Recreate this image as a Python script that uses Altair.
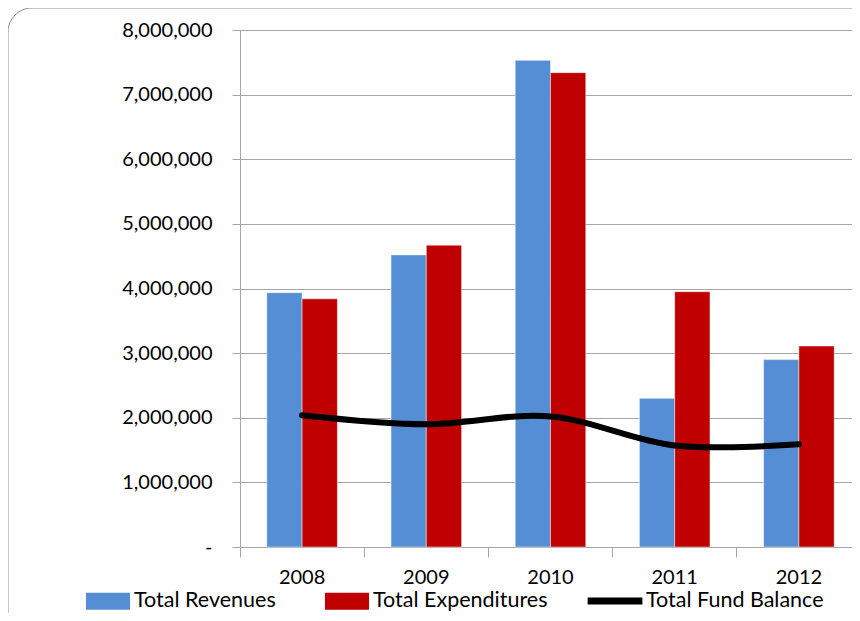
import altair as alt
import pandas as pd

years = ["2008", "2009", "2010", "2011", "2012"]
revenues = [3935000, 4520000, 7530000, 2300000, 2900000]
expenditures = [3840000, 4670000, 7340000, 3950000, 3110000]
fund_balance = [2040000, 1900000, 2020000, 1570000, 1590000]
bar_series = ["Total Revenues", "Total Expenditures"]
bar_colors = ["#558ED5", "#C00000"]
line_series = "Total Fund Balance"
y_ticks = [0, 1000000, 2000000, 3000000, 4000000, 5000000, 6000000, 7000000, 8000000]

FONT = "Lato"

bars_df = pd.DataFrame(
    [{"Year": y, "Series": bar_series[0], "Value": v} for y, v in zip(years, revenues)]
    + [{"Year": y, "Series": bar_series[1], "Value": v} for y, v in zip(years, expenditures)]
)
line_df = pd.DataFrame({"Year": years, "Value": fund_balance, "Series": line_series})
frame_df = pd.DataFrame({"k": [0]})

x_scale = alt.Scale(domain=years, range=[0, 621], paddingInner=0, paddingOuter=0)
y_scale = alt.Scale(domain=[0, 8000000], nice=False)

x_axis = alt.Axis(
    title=None, bandPosition=0, tickSize=10, labelPadding=10,
    labelFontSize=20, labelFont=FONT, labelColor="#000000", labelAngle=0,
    domainColor="#a6a6a6", tickColor="#a6a6a6", grid=False,
)
y_axis = alt.Axis(
    title=None, values=y_ticks, tickSize=8, labelPadding=20,
    labelExpr="datum.value == 0 ? '-' : format(datum.value, ',')",
    labelFontSize=20, labelFont=FONT, labelColor="#000000",
    domainColor="#a6a6a6", tickColor="#a6a6a6", gridColor="#a6a6a6", grid=True,
)

frame = alt.Chart(frame_df).mark_rect(
    fillOpacity=0, stroke="#8c8c8c", strokeWidth=1, cornerRadius=24
).encode(
    x=alt.value(-232), x2=alt.value(700), y=alt.value(-22), y2=alt.value(700)
)

bars = alt.Chart(bars_df).mark_bar(stroke="#ffffff", strokeOpacity=0.45, strokeWidth=1).encode(
    x=alt.X("Year:N", scale=x_scale, axis=x_axis, sort=years),
    xOffset=alt.XOffset("Series:N", scale=alt.Scale(domain=bar_series, paddingInner=0, paddingOuter=0.76)),
    y=alt.Y("Value:Q", scale=y_scale, axis=y_axis),
    color=alt.Color(
        "Series:N",
        scale=alt.Scale(domain=bar_series, range=bar_colors),
        legend=alt.Legend(
            title=None, orient="none", direction="horizontal", legendX=-147, legendY=556,
            symbolType="M-1.47,-0.57H1.47V0.57H-1.47Z", symbolSize=900, symbolStrokeWidth=0,
            labelFontSize=21.5, labelFont=FONT, labelColor="#000000", labelOffset=11,
            columnPadding=48, labelLimit=400,
        ),
    ),
)

line = alt.Chart(line_df).mark_line(
    strokeWidth=6, interpolate="cardinal", strokeCap="round"
).encode(
    x=alt.X("Year:N", scale=x_scale, sort=years),
    y=alt.Y("Value:Q", scale=y_scale),
    stroke=alt.Stroke(
        "Series:N",
        scale=alt.Scale(domain=[line_series], range=["#000000"]),
        legend=alt.Legend(
            title=None, orient="none", direction="horizontal", legendX=344, legendY=540,
            symbolType="stroke", symbolSize=3000, symbolStrokeWidth=7,
            labelFontSize=21.5, labelFont=FONT, labelColor="#000000", labelOffset=0,
            labelLimit=400,
        ),
    ),
)

chart = alt.layer(frame, bars, line).properties(
    width=612, height=517,
    autosize=alt.AutoSizeParams(type="none"),
    padding={"left": 232, "top": 22, "right": 0, "bottom": 66},
    background="white",
).configure_view(stroke=None)

chart.save("out.html", embed_options={"renderer": "svg", "actions": False})
